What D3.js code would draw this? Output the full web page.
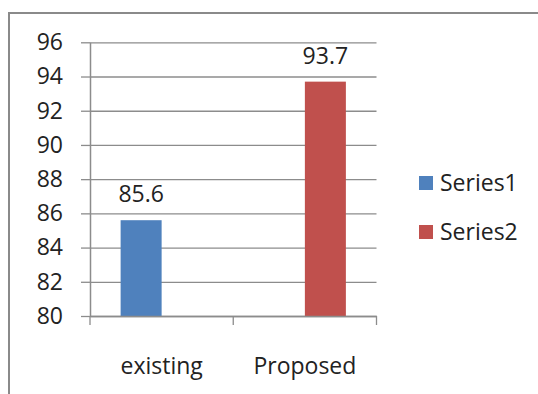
<!DOCTYPE html>
<html><head><meta charset="utf-8">
<script src="https://cdn.jsdelivr.net/npm/d3@7"></script>
<style>html,body{margin:0;padding:0;background:#fff;}svg{display:block;}</style>
</head><body>
<svg id="c" width="538" height="394"></svg>
<script>
const categories = ["existing", "Proposed"];
const seriesNames = ["Series1", "Series2"];
const series1 = [85.6, null];
const series2 = [null, 93.7];
const yTicks = [80, 82, 84, 86, 88, 90, 92, 94, 96];
const colors = ["#4F81BD", "#C0504D"];

const svg = d3.select("#c");
const font = "'Open Sans', sans-serif";
const fs = 23;
const textColor = "#222";
const gridColor = "#8c8c8c";

// outer frame
svg.append("path").attr("d", "M9,394 V13 H538").attr("fill", "none")
  .attr("stroke", "#8a8a8a").attr("stroke-width", 2);

const x0 = 90, x1 = 376.5, yTop = 42.3, yBot = 316;
const y = d3.scaleLinear().domain([80, 96]).range([yBot, yTop]);
const xb = d3.scaleBand().domain(categories).range([x0, x1]).paddingInner(0).paddingOuter(0);
const xs = d3.scaleBand().domain(seriesNames).range([0, xb.bandwidth()]).paddingInner(0).paddingOuter(0.747);

// gridlines
const gAxis = svg.append("g").attr("transform", `translate(${x0},0)`)
  .call(d3.axisLeft(y).tickValues(yTicks).tickSize(x0 - x1).tickSizeOuter(0).tickFormat(""));
gAxis.select(".domain").remove();
gAxis.selectAll("line").attr("stroke", gridColor).attr("stroke-width", 1.3);

// y tick marks & labels
const gY = svg.append("g").attr("transform", `translate(${x0},0)`)
  .call(d3.axisLeft(y).tickValues(yTicks).tickSize(9).tickSizeOuter(0).tickPadding(18));
gY.select(".domain").attr("stroke", gridColor).attr("stroke-width", 1.5);
gY.selectAll("line").attr("stroke", gridColor).attr("stroke-width", 1.3);
gY.selectAll("text").attr("font-family", font).attr("font-size", fs).attr("fill", textColor);

// bars
const data = [series1, series2];
data.forEach((vals, si) => {
  categories.forEach((cat, ci) => {
    const v = vals[ci];
    if (v == null) return;
    const bx = xb(cat) + xs(seriesNames[si]);
    svg.append("rect").attr("x", bx).attr("y", y(v))
      .attr("width", xs.bandwidth()).attr("height", y(80) - y(v))
      .attr("fill", colors[si]);
    svg.append("text").attr("x", bx + xs.bandwidth() / 2).attr("y", y(v) - 18)
      .attr("text-anchor", "middle").attr("font-family", font).attr("font-size", fs)
      .attr("fill", textColor).text(v);
  });
});

// x axis
const gX = svg.append("g").attr("transform", `translate(0,${yBot})`)
  .call(d3.axisBottom(xb).tickSize(0).tickSizeOuter(0).tickPadding(42));
gX.select(".domain").attr("stroke", gridColor).attr("stroke-width", 1.5);
gX.selectAll("text").attr("font-family", font).attr("font-size", fs).attr("fill", textColor);
// category boundary ticks
const bounds = [x0].concat(categories.map(c => xb(c) + xb.bandwidth()));
svg.append("g").selectAll("line").data(bounds).join("line")
  .attr("x1", d => d).attr("x2", d => d).attr("y1", yBot).attr("y2", yBot + 9)
  .attr("stroke", gridColor).attr("stroke-width", 1.3);

// legend
const lg = svg.append("g");
seriesNames.forEach((s, i) => {
  const ly = 176 + i * 49;
  lg.append("rect").attr("x", 419).attr("y", ly).attr("width", 14).attr("height", 14).attr("fill", colors[i]);
  lg.append("text").attr("x", 440).attr("y", ly + 15).attr("font-family", font).attr("font-size", fs)
    .attr("fill", textColor).text(s);
});
</script>
</body></html>
